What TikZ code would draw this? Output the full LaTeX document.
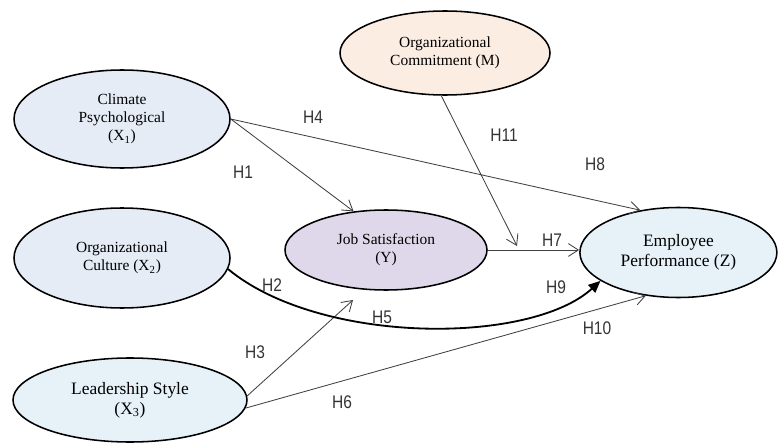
\documentclass[tikz,border=0pt]{standalone}
\usepackage{fontspec}
\setmainfont{Liberation Serif}
\newfontfamily\hypfont[FakeStretch=0.85]{Liberation Sans}
\usetikzlibrary{
    arrows.meta,
    shapes.geometric
}

\definecolor{bluegrey}{HTML}{E6ECF6}
\definecolor{paleblue}{HTML}{E6F2F8}
\definecolor{peach}{HTML}{FCEDE3}
\definecolor{lavender}{HTML}{DED8EA}

\begin{document}
\begin{tikzpicture}[
    var/.style={ellipse, draw, line width=1.1pt, inner sep=0pt, align=center,
      font=\fontsize{11}{12.8}\selectfont},
    bigvar/.style={var, font=\fontsize{12.4}{14.2}\selectfont},
    hyp/.style={font=\hypfont\fontsize{13}{15}\selectfont, text=black!80},
    link/.style={draw=black!75, line width=0.6pt,
      -{Straight Barb[length=2.5mm,width=3.2mm]}}
]

\useasboundingbox (0,0) rectangle (19.45,11.075);

% Exogenous variables
\node[var, fill=bluegrey, minimum width=5.4cm, minimum height=2.45cm] (x1)
  at (3.05,8.1) {Climate\\Psychological\\(X\textsubscript{1})};
\node[var, fill=bluegrey, minimum width=5.4cm, minimum height=2.5cm] (x2)
  at (3.05,4.625) {Organizational\\Culture (X\textsubscript{2})};
\node[bigvar, fill=paleblue, minimum width=5.85cm, minimum height=2.1cm] (x3)
  at (3.25,1.075) {Leadership Style\\(X\textsubscript{3})};

% Moderator, mediator and outcome
\node[var, fill=peach, minimum width=5.25cm, minimum height=2.1cm] (m)
  at (11.125,9.75) {Organizational\\Commitment (M)};
\node[var, fill=lavender, minimum width=5.05cm, minimum height=2.0cm] (y)
  at (9.65,4.825) {Job Satisfaction\\(Y)};
\node[bigvar, fill=paleblue, minimum width=4.925cm, minimum height=2.25cm] (z)
  at (16.96,4.7625) {Employee\\Performance (Z)};

% Free arrow ends
\coordinate (h3end) at (8.825,3.575);
\coordinate (h11end) at (12.925,4.925);

% Paths
\draw[link] (x1.east) -- (y.130);
\draw[link] (x1.east) -- (z.132);
\draw[link] (y.east) -- (y.east -| z.west);
\draw[link] (x3.2) -- (h3end);
\draw[link] (x3.-4) -- (z.233);
\draw[link] (m.265) -- (h11end);
\draw[black, line width=1.3pt, -{Triangle[length=3mm,width=2.6mm]}]
  (x2.-6) .. controls (8.0,2.45) and (13.25,2.45) .. (z.200);

% Hypotheses
\node[hyp] (h1) at (6.075,6.775) {H1};
\node[hyp] (h2) at (6.8,3.95) {H2};
\node[hyp] (h3) at (6.375,2.275) {H3};
\node[hyp] (h4) at (7.825,8.15) {H4};
\node[hyp] (h5) at (9.55,3.15) {H5};
\node[hyp] (h6) at (8.55,1.025) {H6};
\node[hyp] (h7) at (13.8,5.075) {H7};
\node[hyp] (h8) at (14.875,6.975) {H8};
\node[hyp] (h9) at (13.9,3.9) {H9};
\node[hyp] (h10) at (14.925,2.875) {H10};
\node[hyp] (h11) at (12.6,7.7) {H11};

\end{tikzpicture}
\end{document}
